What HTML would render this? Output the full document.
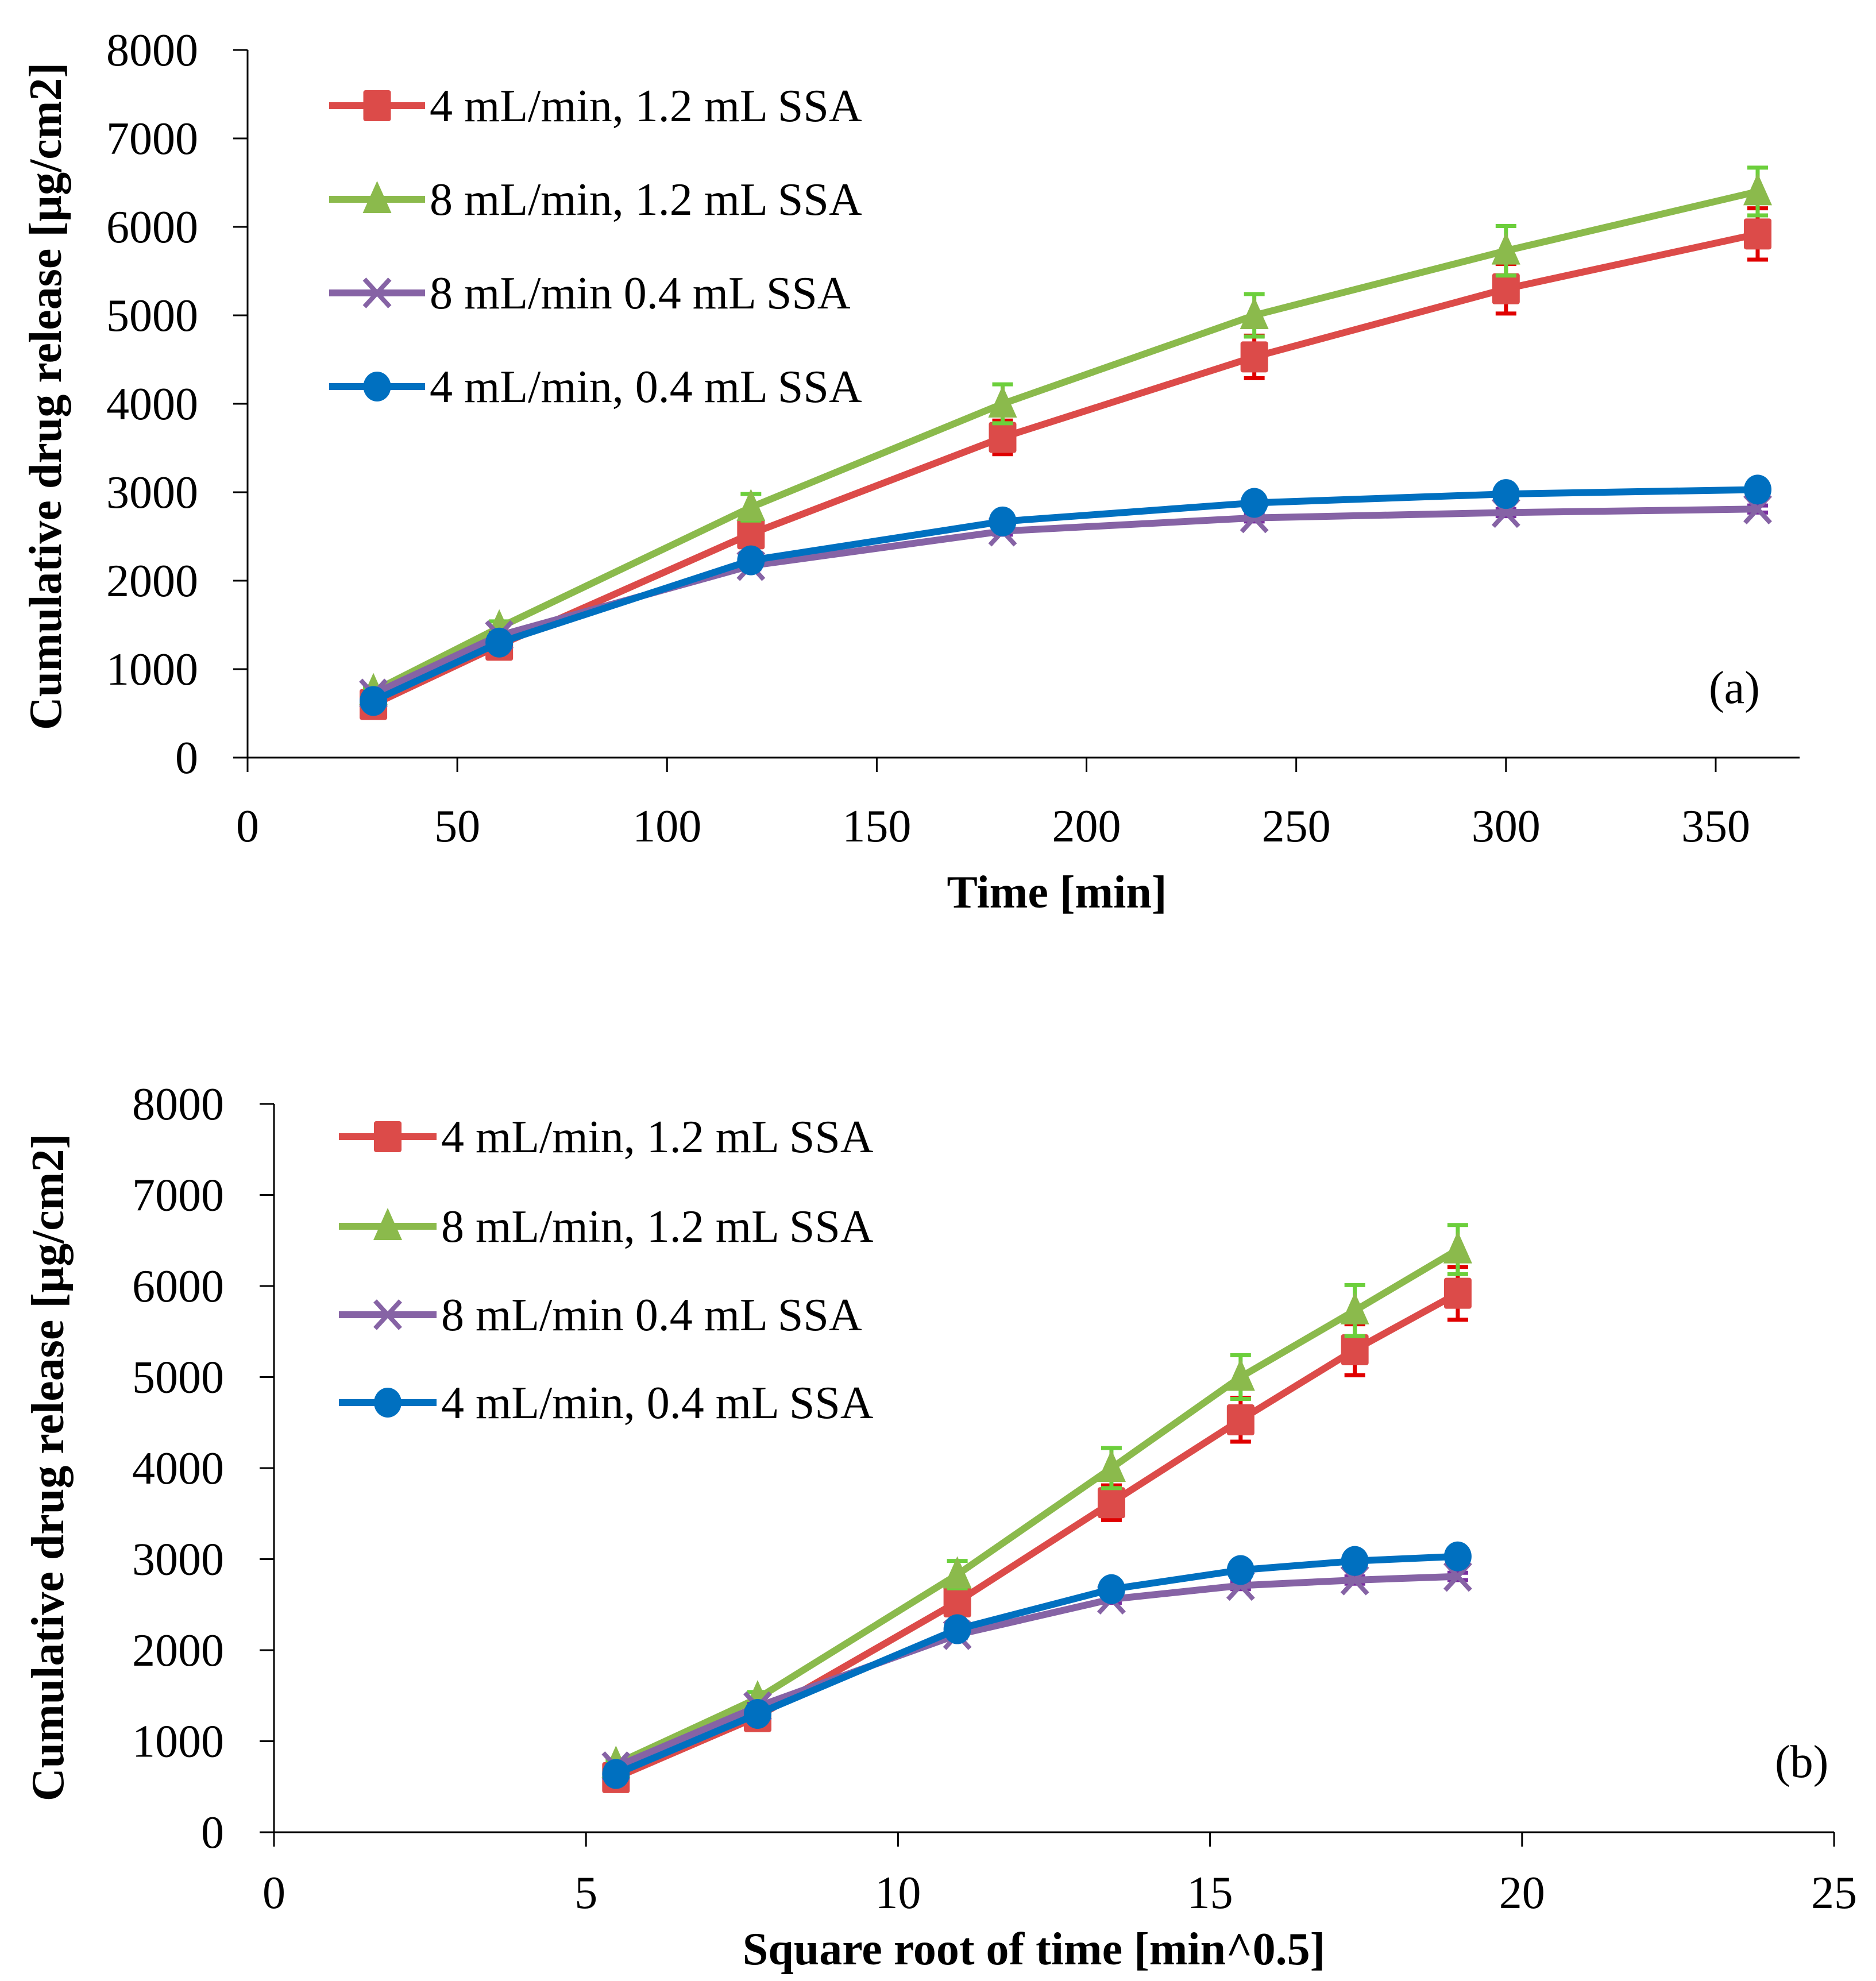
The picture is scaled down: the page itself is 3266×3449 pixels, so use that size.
<!DOCTYPE html>
<html><head><meta charset="utf-8"><style>
html,body{margin:0;padding:0;background:#fff;}
svg{display:block;}
text{font-family:"Liberation Serif","DejaVu Serif",serif;fill:#000;}
</style></head><body>
<svg id="fig" width="3266" height="3449" viewBox="0 0 3266 3449" xmlns="http://www.w3.org/2000/svg"></svg>
<script>
const timeMin = [30, 60, 120, 180, 240, 300, 360];
const sqrtTime = [5.48, 7.75, 10.95, 13.42, 15.49, 17.32, 18.97];
const red = [600, 1270, 2530, 3620, 4530, 5300, 5920];
const redErr = [40, 60, 120, 190, 240, 280, 290];
const green = [750, 1470, 2830, 4000, 5000, 5730, 6400];
const greenErr = [40, 70, 150, 220, 240, 280, 270];
const purple = [720, 1380, 2170, 2560, 2710, 2770, 2810];
const purpleErr = [20, 30, 40, 40, 40, 40, 40];
const blue = [640, 1300, 2230, 2670, 2880, 2980, 3030];
const blueErr = [20, 30, 40, 40, 40, 50, 60];
const yTicks = [0, 1000, 2000, 3000, 4000, 5000, 6000, 7000, 8000];
const xTicksA = [0, 50, 100, 150, 200, 250, 300, 350];
const xTicksB = [0, 5, 10, 15, 20, 25];
const legendLabels = ["4 mL/min, 1.2 mL SSA", "8 mL/min, 1.2 mL SSA", "8 mL/min 0.4 mL SSA", "4 mL/min, 0.4 mL SSA"];

const NS = "http://www.w3.org/2000/svg";
const svg = document.getElementById('fig');
function mk(tag, attrs, parent) {
  const e = document.createElementNS(NS, tag);
  for (const k in attrs) e.setAttribute(k, attrs[k]);
  (parent || svg).appendChild(e);
  return e;
}
const seriesDefs = [
  {vals: red, err: redErr, color: '#dc4b49', errColor: '#e00000', marker: 'square', name: 'red'},
  {vals: green, err: greenErr, color: '#8bba4c', errColor: '#6ccf3c', marker: 'triangle', name: 'green'},
  {vals: purple, err: purpleErr, color: '#8663a5', errColor: '#7a2ea0', marker: 'x', name: 'purple'},
  {vals: blue, err: blueErr, color: '#0070c0', errColor: '#0070c0', marker: 'circle', name: 'blue'}
];
function marker(g, type, cx, cy, color) {
  let m;
  if (type === 'square') m = mk('rect', {x: cx - 24, y: cy - 27, width: 48, height: 54, rx: 4, fill: color}, g);
  else if (type === 'triangle') m = mk('polygon', {points: `${cx},${cy - 32} ${cx + 25},${cy + 24} ${cx - 25},${cy + 24}`, fill: color}, g);
  else if (type === 'circle') m = mk('ellipse', {cx: cx, cy: cy, rx: 24, ry: 26, fill: color}, g);
  else {
    m = mk('path', {d: `M${cx - 22},${cy - 24}L${cx + 22},${cy + 24}M${cx + 22},${cy - 24}L${cx - 22},${cy + 24}`, stroke: color, 'stroke-width': 8, fill: 'none'}, g);
  }
  return m;
}
function drawChart(cfg) {
  const g = mk('g', {});
  
  
  const sx = v => cfg.x0 + (v - cfg.xmin) / (cfg.xmax - cfg.xmin) * (cfg.x1 - cfg.x0);
  const sy = v => cfg.y0 - v / 8000 * (cfg.y0 - cfg.y1);
  const ax = mk('g', {}, g);
  
  
  mk('line', {x1: cfg.x0, y1: cfg.y1, x2: cfg.x0, y2: cfg.y0, stroke: '#000', 'stroke-width': 3}, ax);
  mk('line', {x1: cfg.x0, y1: cfg.y0, x2: cfg.x1, y2: cfg.y0, stroke: '#000', 'stroke-width': 3}, ax);
  yTicks.forEach(t => {
    const y = sy(t);
    mk('line', {x1: cfg.x0 - 25, y1: y, x2: cfg.x0, y2: y, stroke: '#000', 'stroke-width': 3}, ax);
    const tx = mk('text', {x: cfg.yLabelX, y: y + 27, 'font-size': cfg.fs, 'text-anchor': 'end'}, ax);
    tx.textContent = t;
    
    
  });
  cfg.xTicks.forEach(t => {
    const x = sx(t);
    mk('line', {x1: x, y1: cfg.y0, x2: x, y2: cfg.y0 + 25, stroke: '#000', 'stroke-width': 3}, ax);
    const tx = mk('text', {x: x, y: cfg.xLabelY, 'font-size': cfg.fs, 'text-anchor': 'middle'}, ax);
    tx.textContent = t;
    
    
  });
  const xt = mk('text', {x: cfg.xTitleX, y: cfg.xTitleY, 'font-size': cfg.fs, 'font-weight': 'bold', 'text-anchor': 'middle'}, g);
  xt.textContent = cfg.xTitle;
  
  
  const yt = mk('text', {x: 0, y: 0, 'font-size': cfg.fs, 'font-weight': 'bold', 'text-anchor': 'middle', transform: `translate(${cfg.yTitleX},${cfg.yTitleY}) rotate(-90)`}, g);
  yt.textContent = cfg.yTitle;
  
  
  const pl = mk('text', {x: cfg.panelX, y: cfg.panelY, 'font-size': cfg.fs}, g);
  pl.textContent = cfg.panel;
  
  
  seriesDefs.forEach(s => {
    const sg = mk('g', {}, g);
    
    
    s.vals.forEach((v, i) => {
      const x = sx(cfg.xs[i]);
      const e = s.err[i];
      mk('line', {x1: x, y1: sy(v - e), x2: x, y2: sy(v + e), stroke: s.errColor, 'stroke-width': 7}, sg);
      mk('line', {x1: x - 18, y1: sy(v + e), x2: x + 18, y2: sy(v + e), stroke: s.errColor, 'stroke-width': 7}, sg);
      mk('line', {x1: x - 18, y1: sy(v - e), x2: x + 18, y2: sy(v - e), stroke: s.errColor, 'stroke-width': 7}, sg);
    });
    const pts = s.vals.map((v, i) => sx(cfg.xs[i]) + ',' + sy(v)).join(' ');
    const ln = mk('polyline', {points: pts, fill: 'none', stroke: s.color, 'stroke-width': 12, 'stroke-linejoin': 'round'}, sg);
    
    
    s.vals.forEach((v, i) => {
      const m = marker(sg, s.marker, sx(cfg.xs[i]), sy(v), s.color);
      
      
    });
  });
  const lg = mk('g', {}, g);
  
  
  seriesDefs.forEach((s, i) => {
    const y = cfg.legY[i];
    const eg = mk('g', {}, lg);
    
    
    mk('line', {x1: cfg.legX0, y1: y, x2: cfg.legX1, y2: y, stroke: s.color, 'stroke-width': 12}, eg);
    marker(eg, s.marker, (cfg.legX0 + cfg.legX1) / 2, y, s.color);
    const t = mk('text', {x: cfg.legX1 + 8, y: y + 27, 'font-size': cfg.legFs}, eg);
    t.textContent = legendLabels[i];
  });
}
drawChart({name: 'chart-a', xs: timeMin, xmin: 0, xmax: 370, x0: 431, x1: 3133, y0: 1319, y1: 87,
  xTicks: xTicksA, yLabelX: 345, xLabelY: 1465, fs: 80, legFs: 80,
  xTitle: 'Time [min]', xTitleX: 1840, xTitleY: 1580,
  yTitle: 'Cumulative drug release [µg/cm2]', yTitleX: 106, yTitleY: 690,
  panel: '(a)', panelX: 2975, panelY: 1224,
  legX0: 573, legX1: 740, legY: [184, 347, 510, 673]});
drawChart({name: 'chart-b', xs: sqrtTime, xmin: 0, xmax: 25, x0: 477, x1: 3193, y0: 3190, y1: 1922,
  xTicks: xTicksB, yLabelX: 390, xLabelY: 3322, fs: 80, legFs: 80,
  xTitle: 'Square root of time [min^0.5]', xTitleX: 1800, xTitleY: 3420,
  yTitle: 'Cumulative drug release  [µg/cm2]', yTitleX: 110, yTitleY: 2555,
  panel: '(b)', panelX: 3090, panelY: 3094,
  legX0: 590, legX1: 760, legY: [1979, 2135, 2289, 2442]});
</script>
</body></html>
